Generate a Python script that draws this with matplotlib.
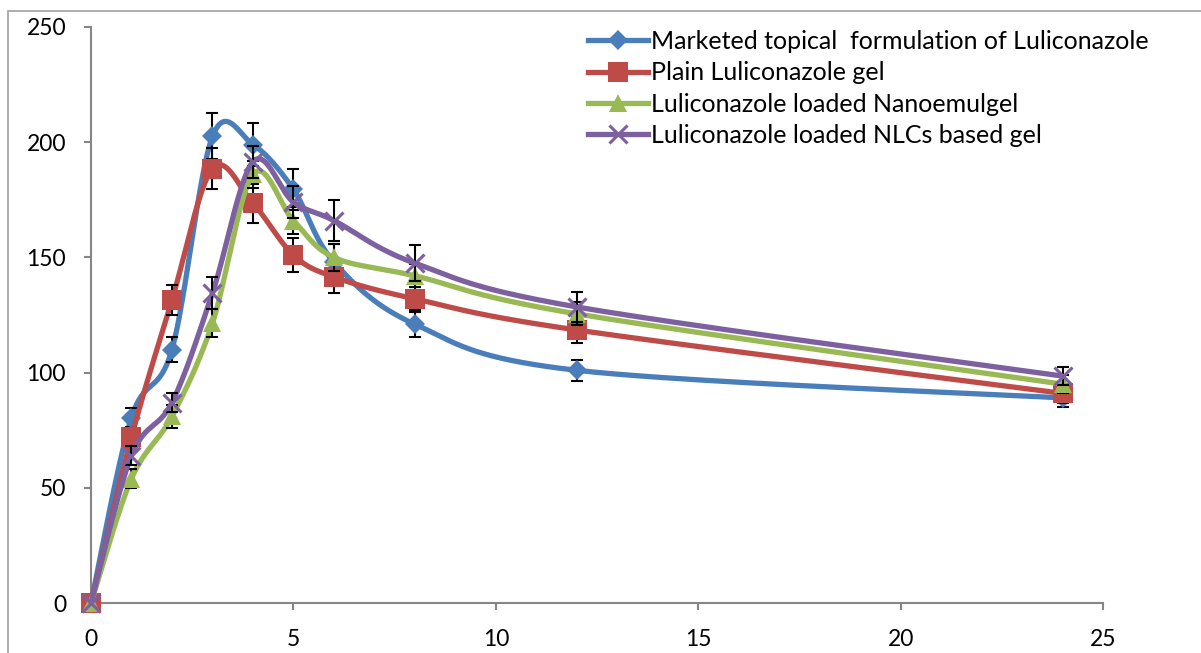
import numpy as np
import matplotlib
matplotlib.use("Agg")
import matplotlib.pyplot as plt
from matplotlib.lines import Line2D
from matplotlib.patches import Rectangle

time_h = [0, 1, 2, 3, 4, 5, 6, 8, 12, 24]

series_names = [
    "Marketed topical  formulation of Luliconazole",
    "Plain Luliconazole gel",
    "Luliconazole loaded Nanoemulgel",
    "Luliconazole loaded NLCs based gel",
]
marketed = [0, 80.5, 110, 202.5, 199, 179.5, 148, 121, 101, 89]
plain = [0, 72, 131.5, 188.5, 173.5, 151, 141.5, 132, 118.5, 91]
nanoemulgel = [0, 54, 81, 121.5, 186, 166, 150, 142, 125.5, 95]
nlc_gel = [0, 64, 87, 134.5, 191.5, 174, 166, 147.5, 128.5, 98.5]

marketed_err = [0, 4, 5.5, 10, 9.5, 9, 8, 5.5, 4.6, 4]
plain_err = [0, 4, 6.5, 9, 8.5, 7.5, 7, 5, 5.5, 4]
nanoemulgel_err = [0, 4, 5, 6, 6, 6, 6, 5, 5, 4]
nlc_gel_err = [0, 4, 4, 7, 7, 7, 8.7, 7.7, 6.5, 4]

colors = ["#4A7EBB", "#BE4B48", "#98B954", "#7D60A0"]
markers = ["D", "s", "^", "x"]
msizes = [10.5, 14, 13, 12.5]

x_ticks = [0, 5, 10, 15, 20, 25]
y_ticks = [0, 50, 100, 150, 200, 250]

FONT = "Lato"
plt.rcParams["font.family"] = [FONT, "DejaVu Sans"]

fig = plt.figure(figsize=(12.01, 6.53), dpi=100)
W, H = 1201, 653
ax = fig.add_axes([91 / W, 1 - 603 / H, (1103 - 91) / W, (603 - 27) / H])
ax.set_xlim(0, 25)
ax.set_ylim(0, 250)

# Excel-style smoothing (Bezier through points) in display-proportional space
sx = (1103 - 91) / 25.0
sy = (603 - 27) / 250.0


def smooth(xs, ys, n=40):
    P = np.column_stack([np.asarray(xs, float) * sx, np.asarray(ys, float) * sy])
    out = [P[0]]
    m = len(P)
    for i in range(m - 1):
        p0 = P[i - 1] if i > 0 else P[i]
        p1 = P[i]
        p2 = P[i + 1]
        p3 = P[i + 2] if i + 2 < m else P[i + 1]
        b1 = p1 + (p2 - p0) / 6.0
        b2 = p2 - (p3 - p1) / 6.0
        t = np.linspace(0, 1, n)[1:, None]
        seg = ((1 - t) ** 3) * p1 + 3 * ((1 - t) ** 2) * t * b1 + 3 * (1 - t) * t ** 2 * b2 + t ** 3 * p2
        out.extend(seg)
    out = np.array(out)
    return out[:, 0] / sx, out[:, 1] / sy


all_vals = [marketed, plain, nanoemulgel, nlc_gel]
all_err = [marketed_err, plain_err, nanoemulgel_err, nlc_gel_err]

handles = []
for k, (vals, errs) in enumerate(zip(all_vals, all_err)):
    cx, cy = smooth(time_h, vals)
    z = 3 + 3 * k
    ax.plot(cx, cy, color=colors[k], lw=3.8, solid_capstyle="round", zorder=z, clip_on=False)
    ax.errorbar(time_h[1:], vals[1:], yerr=errs[1:], fmt="none", ecolor="black",
                elinewidth=1.5, capsize=4, capthick=1.5, zorder=z + 1)
    if markers[k] == "x":
        ax.plot(time_h, vals, ls="none", marker="x", ms=msizes[k], mew=2.2,
                color=colors[k], zorder=z + 2, clip_on=False)
    else:
        ax.plot(time_h, vals, ls="none", marker=markers[k], ms=msizes[k], mew=0,
                color=colors[k], zorder=z + 2, clip_on=False)
    mew = 2.2 if markers[k] == "x" else 0
    handles.append(Line2D([], [], color=colors[k], lw=3.8, marker=markers[k],
                          ms=msizes[k], mew=mew, mec=colors[k]))

for side in ["top", "right"]:
    ax.spines[side].set_visible(False)
for side in ["left", "bottom"]:
    ax.spines[side].set_color("#868686")
    ax.spines[side].set_linewidth(1.5)

ax.set_xticks(x_ticks)
ax.set_yticks(y_ticks)
ax.tick_params(axis="both", direction="out", length=5, width=1.5, color="#868686",
               labelsize=16.5, labelcolor="black")
ax.tick_params(axis="y", pad=13)
ax.tick_params(axis="x", pad=14)

leg = ax.legend(handles, series_names, loc="upper left", bbox_to_anchor=(588 / W, 1 - 30 / H),
                bbox_transform=fig.transFigure, frameon=False, fontsize=18,
                handlelength=2.4, handletextpad=0.12, labelspacing=0.33,
                borderaxespad=0, borderpad=0)

# chart-area border
fig.patches.append(Rectangle((8 / W, -0.1), 1.2, 1 - 11 / H + 0.1, transform=fig.transFigure,
                             fill=False, edgecolor="#A0A0A0", lw=1.2, zorder=0))

fig.savefig("out.png", dpi=100)
